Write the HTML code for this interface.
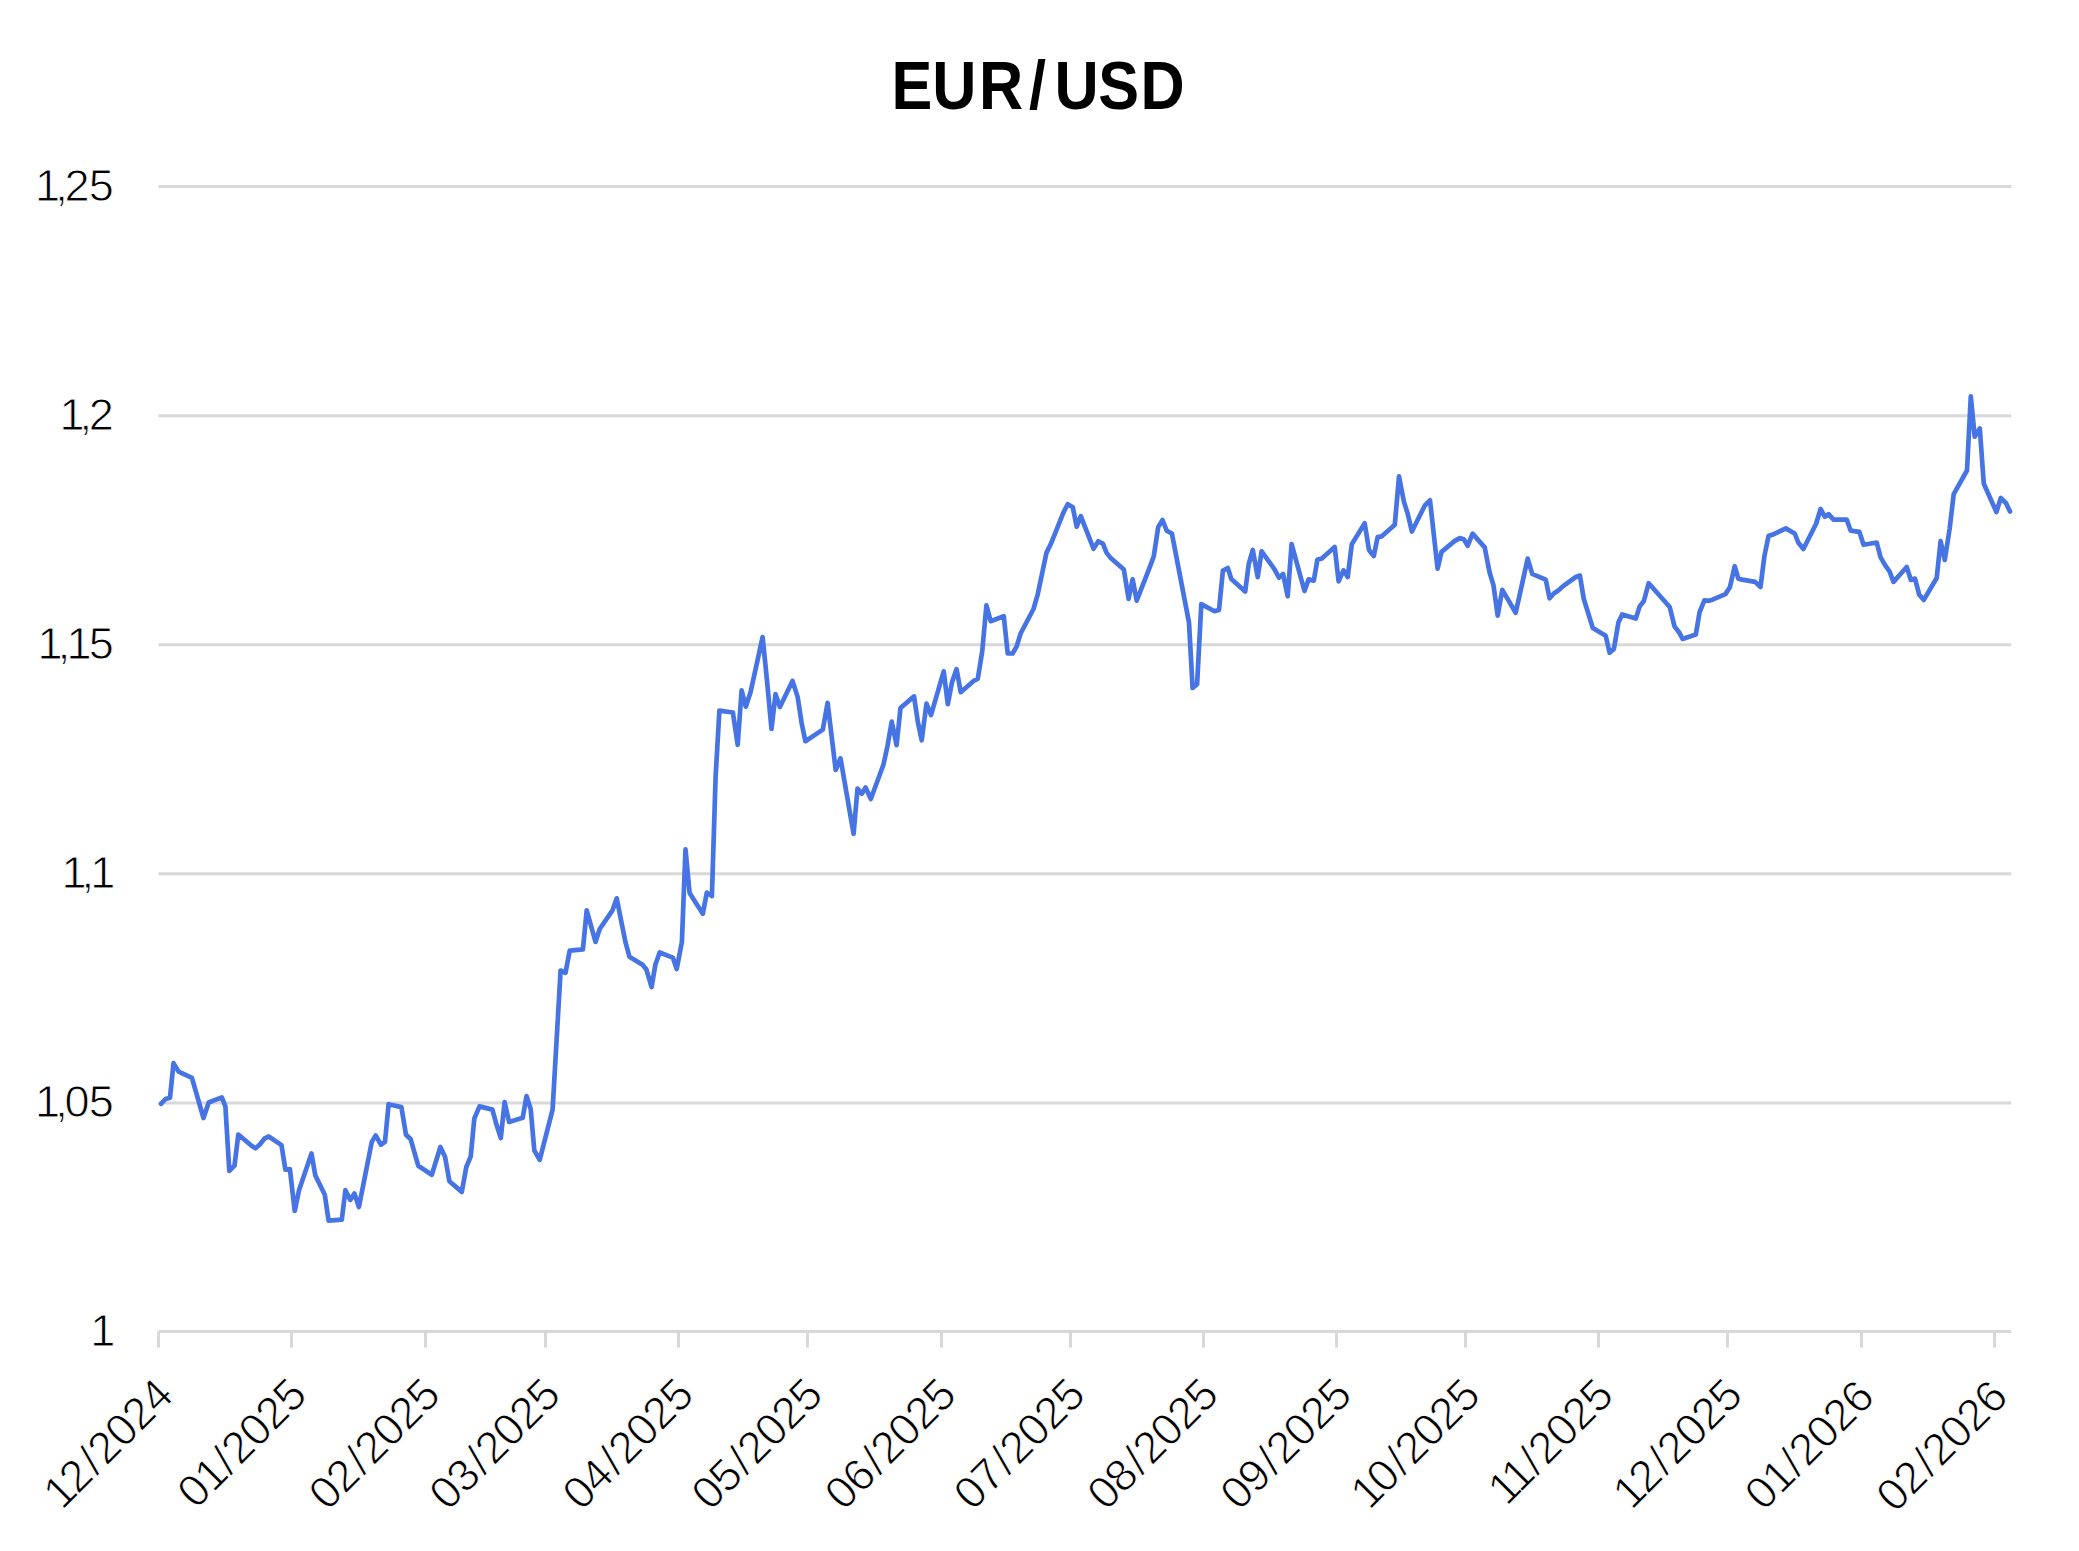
<!DOCTYPE html>
<html lang="fr"><head><meta charset="utf-8"><title>EUR/USD</title>
<style>
html,body{margin:0;padding:0;background:#fff;}
body{width:2079px;height:1551px;overflow:hidden;font-family:"Liberation Sans",sans-serif;}
svg{display:block}
.t{font-family:"Liberation Sans",sans-serif;font-weight:700;font-size:68.3px;letter-spacing:0.65px;fill:#000}
.l{font-family:"Liberation Sans",sans-serif;font-size:45.1px;letter-spacing:-0.75px;fill:#000;stroke:#fff;stroke-width:0.9}
</style></head><body>
<svg width="2079" height="1551" viewBox="0 0 2079 1551">
<rect width="2079" height="1551" fill="#fff"/>
<text class="t" transform="translate(891.4,109.1) scale(0.896,1)" dx="0.0 -0.6 2.1 5.9 8.9 -1.1 0.9">EUR/USD</text>
<g stroke="#d8d8d8" stroke-width="3" fill="none">
<line x1="158.4" x2="2011.2" y1="186.5" y2="186.5"/>
<line x1="158.4" x2="2011.2" y1="415.7" y2="415.7"/>
<line x1="158.4" x2="2011.2" y1="644.7" y2="644.7"/>
<line x1="158.4" x2="2011.2" y1="873.8" y2="873.8"/>
<line x1="158.4" x2="2011.2" y1="1103.0" y2="1103.0"/>
<line x1="158.5" x2="2011.3" y1="1331.5" y2="1331.5"/>
<line x1="158.5" x2="158.5" y1="1331.5" y2="1347.6"/>
<line x1="291.5" x2="291.5" y1="1331.5" y2="1347.6"/>
<line x1="425.5" x2="425.5" y1="1331.5" y2="1347.6"/>
<line x1="545.5" x2="545.5" y1="1331.5" y2="1347.6"/>
<line x1="678.5" x2="678.5" y1="1331.5" y2="1347.6"/>
<line x1="807.5" x2="807.5" y1="1331.5" y2="1347.6"/>
<line x1="941.5" x2="941.5" y1="1331.5" y2="1347.6"/>
<line x1="1070.5" x2="1070.5" y1="1331.5" y2="1347.6"/>
<line x1="1203.5" x2="1203.5" y1="1331.5" y2="1347.6"/>
<line x1="1336.5" x2="1336.5" y1="1331.5" y2="1347.6"/>
<line x1="1465.5" x2="1465.5" y1="1331.5" y2="1347.6"/>
<line x1="1598.5" x2="1598.5" y1="1331.5" y2="1347.6"/>
<line x1="1727.5" x2="1727.5" y1="1331.5" y2="1347.6"/>
<line x1="1861.5" x2="1861.5" y1="1331.5" y2="1347.6"/>
<line x1="1994.5" x2="1994.5" y1="1331.5" y2="1347.6"/>
</g>
<g class="l" text-anchor="end">
<text x="113.6" y="200.7" dx="-0.5 -4.2 -2.6 0">1,25</text>
<text x="113.6" y="429.9" dx="-0.5 -4.2 -2.6">1,2</text>
<text x="113.6" y="658.9" dx="-0.5 -4.2 -3.1 -2">1,15</text>
<text x="115.1" y="888.0" dx="-0.5 -4.2 -3.1">1,1</text>
<text x="113.6" y="1117.2" dx="-0.5 -4.2 -2.6 0">1,05</text>
<text x="115.1" y="1345.7" dx="-0.5">1</text>
</g>
<g class="l" text-anchor="end">
<text transform="translate(175.5,1397.6) rotate(-45)" dx="-0.5 -2 2.5 1.6 0 0 0">12/2024</text>
<text transform="translate(308.8,1397.6) rotate(-45)" dx="0 -0.5 0.5 1.6 0 0 0">01/2025</text>
<text transform="translate(442.1,1397.6) rotate(-45)" dx="0 0 2.5 1.6 0 0 0">02/2025</text>
<text transform="translate(562.5,1397.6) rotate(-45)" dx="0 0 2.5 1.6 0 0 0">03/2025</text>
<text transform="translate(695.8,1397.6) rotate(-45)" dx="0 0 2.5 1.6 0 0 0">04/2025</text>
<text transform="translate(824.8,1397.6) rotate(-45)" dx="0 0 2.5 1.6 0 0 0">05/2025</text>
<text transform="translate(958.1,1397.6) rotate(-45)" dx="0 0 2.5 1.6 0 0 0">06/2025</text>
<text transform="translate(1087.1,1397.6) rotate(-45)" dx="0 0 2.5 1.6 0 0 0">07/2025</text>
<text transform="translate(1220.4,1397.6) rotate(-45)" dx="0 0 2.5 1.6 0 0 0">08/2025</text>
<text transform="translate(1353.6,1397.6) rotate(-45)" dx="0 0 2.5 1.6 0 0 0">09/2025</text>
<text transform="translate(1482.6,1397.6) rotate(-45)" dx="-0.5 -2 2.5 1.6 0 0 0">10/2025</text>
<text transform="translate(1615.9,1397.6) rotate(-45)" dx="-0.5 -2.5 0.5 1.6 0 0 0">11/2025</text>
<text transform="translate(1744.9,1397.6) rotate(-45)" dx="-0.5 -2 2.5 1.6 0 0 0">12/2025</text>
<text transform="translate(1876.3,1399.5) rotate(-45)" dx="0 -0.5 0.5 1.6 0 0 0">01/2026</text>
<text transform="translate(2009.6,1399.5) rotate(-45)" dx="0 0 2.5 1.6 0 0 0">02/2026</text>
</g>
<path d="M161.0 1103.8 L165.5 1099.1 L170.0 1097.8 L173.5 1063.2 L178.6 1071.6 L191.9 1077.8 L203.5 1118.0 L208.7 1102.5 L221.8 1097.4 L225.4 1106.4 L229.3 1170.9 L234.5 1165.7 L238.3 1134.5 L251.9 1146.0 L255.5 1148.3 L259.6 1144.7 L264.8 1138.3 L268.7 1136.5 L281.5 1145.1 L285.4 1169.6 L289.9 1169.0 L294.7 1210.9 L299.0 1190.2 L311.5 1153.5 L315.3 1175.4 L324.8 1194.8 L328.6 1220.6 L341.8 1219.7 L345.4 1190.2 L350.3 1199.9 L354.4 1193.5 L358.9 1207.0 L371.8 1141.9 L375.7 1135.4 L380.9 1144.7 L385.0 1141.9 L388.6 1104.2 L401.4 1107.1 L406.0 1134.8 L410.7 1139.3 L418.2 1165.7 L431.8 1174.8 L440.4 1147.0 L445.0 1156.7 L449.4 1181.2 L461.8 1191.9 L466.3 1167.0 L470.7 1156.7 L474.3 1118.7 L479.5 1106.4 L492.4 1109.6 L496.6 1125.1 L500.8 1138.0 L504.6 1102.2 L509.1 1121.9 L522.7 1117.8 L526.5 1096.1 L530.7 1109.0 L534.3 1150.3 L539.7 1159.9 L552.6 1109.6 L560.6 970.5 L565.5 972.8 L569.7 950.7 L582.9 949.4 L586.7 910.3 L595.5 941.9 L599.7 929.0 L612.5 910.3 L616.7 898.3 L621.0 920.0 L625.4 941.9 L629.4 956.7 L642.5 964.8 L646.4 969.6 L651.6 987.0 L655.4 964.5 L659.7 952.5 L672.8 957.6 L676.7 969.0 L681.9 941.9 L685.5 849.3 L689.6 892.9 L702.8 913.8 L706.8 892.6 L711.9 896.1 L715.6 777.0 L719.4 710.6 L732.9 712.5 L737.7 744.8 L741.6 690.4 L745.8 706.7 L750.6 691.9 L762.6 637.1 L767.1 681.6 L771.5 729.0 L775.5 694.2 L779.9 707.1 L792.5 680.9 L797.7 697.1 L801.6 722.9 L805.4 741.2 L822.8 729.6 L827.6 702.9 L835.7 769.9 L840.5 758.3 L853.6 833.8 L857.5 788.6 L861.8 793.8 L865.6 787.4 L870.8 799.0 L883.4 764.8 L887.6 745.4 L891.7 721.6 L896.6 745.2 L900.5 708.0 L914.0 696.4 L917.9 722.2 L921.7 740.3 L926.5 703.5 L931.0 715.1 L943.7 671.3 L947.8 704.2 L952.0 682.2 L956.6 669.1 L960.7 692.2 L973.6 681.0 L977.8 678.6 L982.2 651.5 L986.4 605.4 L990.7 621.2 L1003.8 616.3 L1007.7 653.5 L1012.6 653.5 L1016.7 646.4 L1020.6 633.5 L1033.5 609.0 L1037.8 594.1 L1046.4 552.9 L1050.9 543.8 L1063.6 512.2 L1067.7 504.2 L1072.8 507.3 L1076.7 526.7 L1080.8 516.1 L1093.5 548.7 L1098.3 541.3 L1102.9 543.6 L1106.6 552.9 L1110.2 557.4 L1123.8 569.4 L1128.6 598.9 L1132.6 579.3 L1136.7 600.6 L1149.6 567.7 L1153.8 556.1 L1158.2 527.1 L1162.5 520.0 L1166.7 530.7 L1171.9 533.5 L1189.0 622.5 L1192.6 688.0 L1197.1 684.1 L1201.3 604.1 L1214.5 611.2 L1219.0 610.0 L1222.9 570.6 L1227.8 568.0 L1231.3 579.0 L1245.2 591.5 L1248.7 564.2 L1252.8 550.0 L1257.7 577.1 L1261.6 551.3 L1274.5 569.3 L1279.0 577.7 L1283.1 574.1 L1287.7 596.2 L1291.6 544.2 L1304.5 591.0 L1308.6 579.4 L1313.8 580.7 L1317.4 559.7 L1321.8 558.4 L1334.7 547.0 L1338.6 581.3 L1343.5 570.4 L1347.7 577.1 L1351.8 544.2 L1364.7 523.3 L1369.0 550.0 L1373.8 556.0 L1377.6 537.1 L1381.5 536.4 L1394.8 524.8 L1399.0 476.4 L1403.9 501.6 L1407.7 513.8 L1411.9 531.5 L1424.8 505.5 L1430.0 500.3 L1437.6 568.7 L1441.5 551.9 L1454.8 540.9 L1459.7 538.1 L1463.8 539.2 L1467.7 545.7 L1472.6 533.6 L1484.7 547.4 L1489.6 572.5 L1493.5 585.4 L1497.7 615.7 L1502.3 589.9 L1515.7 612.8 L1527.7 558.6 L1532.2 573.8 L1545.7 579.6 L1549.6 598.3 L1554.1 593.2 L1558.6 590.3 L1563.1 586.1 L1575.8 577.0 L1579.9 575.5 L1583.8 599.0 L1592.8 628.0 L1605.7 635.7 L1609.6 652.8 L1613.9 648.9 L1618.4 622.5 L1622.2 614.4 L1635.8 618.6 L1639.7 606.4 L1643.9 601.0 L1648.7 583.2 L1669.7 607.0 L1674.5 626.4 L1679.0 632.2 L1682.6 638.9 L1695.8 634.5 L1699.6 612.2 L1704.4 600.3 L1708.7 600.8 L1712.5 599.7 L1725.4 594.1 L1729.9 587.3 L1734.7 566.2 L1738.3 578.7 L1742.2 579.6 L1755.1 581.9 L1760.5 587.0 L1764.4 556.1 L1768.6 535.7 L1772.9 534.6 L1785.8 528.4 L1794.7 533.5 L1798.3 542.5 L1803.4 549.0 L1816.1 523.8 L1820.6 509.0 L1824.8 516.7 L1828.6 514.2 L1833.5 519.6 L1846.7 519.6 L1850.7 530.7 L1859.3 531.8 L1863.6 544.7 L1876.7 542.5 L1880.6 557.4 L1885.1 565.1 L1889.6 571.5 L1893.5 581.9 L1906.7 567.0 L1910.9 579.9 L1915.0 578.6 L1919.3 594.8 L1923.8 599.9 L1936.7 578.0 L1940.6 541.2 L1944.8 559.9 L1949.6 529.0 L1953.7 494.2 L1967.0 470.5 L1970.8 396.4 L1974.7 436.7 L1979.8 428.4 L1983.8 483.8 L1996.4 512.0 L2000.8 498.0 L2006.1 503.2 L2010.0 511.6" fill="none" stroke="#4774e5" stroke-width="4.7" stroke-linejoin="round" stroke-linecap="round"/>
</svg></body></html>
